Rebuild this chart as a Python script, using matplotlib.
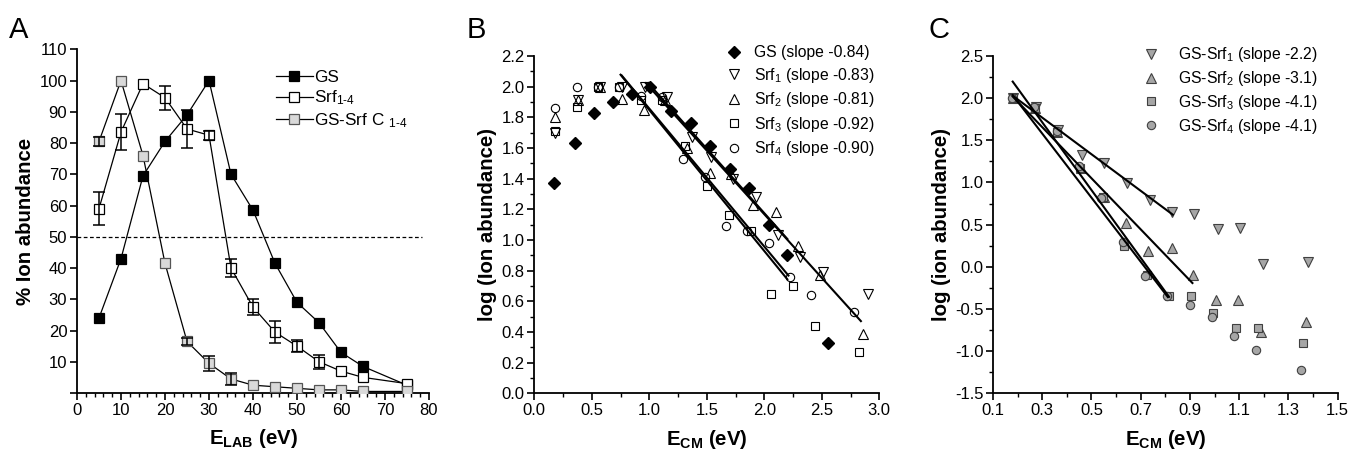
import numpy as np
import matplotlib
matplotlib.use("Agg")
import matplotlib.pyplot as plt
from matplotlib.ticker import MultipleLocator, FixedLocator, FormatStrFormatter

plt.rcParams['font.family'] = ['Liberation Sans', 'DejaVu Sans']
plt.rcParams['mathtext.fontset'] = 'custom'
plt.rcParams['mathtext.rm'] = 'Liberation Sans'
plt.rcParams['mathtext.it'] = 'Liberation Sans'
plt.rcParams['mathtext.bf'] = 'Liberation Sans:bold'
plt.rcParams['mathtext.default'] = 'regular'

# ---------------- Panel A data ----------------
elab = [5, 10, 15, 20, 25, 30, 35, 40, 45, 50, 55, 60, 65, 75]
gs_a = [24, 43, 69.5, 80.5, 89, 100, 70, 58.5, 41.5, 29, 22.5, 13, 8.5, 2.5]
srf_a = [59, 83.5, 99, 94.5, 84.5, 82.5, 40, 27.5, 19.5, 15, 10, 7, 5, 3]
srf_a_err = [5.3, 5.8, 0, 3.9, 6.0, 1.4, 2.8, 2.6, 3.6, 2.0, 2.2, 0, 0, 0]
gssrf_a = [80.5, 100, 76, 41.5, 16.5, 9.5, 4.5, 2.5, 2, 1.5, 1, 1, 0.5, 0.5]
gssrf_a_err = [1.3, 0, 0, 0, 1.2, 2.5, 2.0, 0, 0, 0, 0, 0, 0, 0]
a_labels = ['GS', 'Srf$_{1\u20104}$', 'GS-Srf C $_{1\u20104}$']

# ---------------- Panel B data ----------------
gs_b_x = [0.17, 0.35, 0.52, 0.68, 0.85, 1.01, 1.19, 1.36, 1.53, 1.70, 1.87, 2.04, 2.20, 2.55]
gs_b_y = [1.37, 1.63, 1.83, 1.90, 1.95, 2.00, 1.84, 1.76, 1.61, 1.46, 1.34, 1.10, 0.90, 0.33]
srf1_b_x = [0.18, 0.38, 0.57, 0.76, 0.96, 1.15, 1.37, 1.54, 1.73, 1.93, 2.12, 2.31, 2.51, 2.90]
srf1_b_y = [1.70, 1.91, 2.00, 2.00, 2.00, 1.93, 1.67, 1.54, 1.40, 1.28, 1.03, 0.89, 0.79, 0.65]
srf2_b_x = [0.18, 0.38, 0.57, 0.76, 0.95, 1.14, 1.33, 1.53, 1.71, 1.90, 2.10, 2.29, 2.48, 2.86]
srf2_b_y = [1.80, 1.91, 2.00, 1.92, 1.85, 1.91, 1.60, 1.44, 1.43, 1.23, 1.18, 0.96, 0.77, 0.39]
srf3_b_x = [0.18, 0.37, 0.55, 0.74, 0.93, 1.11, 1.31, 1.50, 1.69, 1.88, 2.06, 2.25, 2.44, 2.82]
srf3_b_y = [1.71, 1.87, 2.00, 2.00, 1.91, 1.91, 1.61, 1.35, 1.16, 1.06, 0.65, 0.70, 0.44, 0.27]
srf4_b_x = [0.18, 0.37, 0.55, 0.74, 0.93, 1.11, 1.29, 1.48, 1.67, 1.85, 2.04, 2.22, 2.41, 2.78]
srf4_b_y = [1.86, 2.00, 2.00, 2.00, 1.94, 1.93, 1.53, 1.41, 1.09, 1.06, 0.98, 0.76, 0.64, 0.53]
b_labels = ['GS (slope -0.84)', 'Srf$_1$ (slope -0.83)', 'Srf$_2$ (slope -0.81)',
            'Srf$_3$ (slope -0.92)', 'Srf$_4$ (slope -0.90)']
# regression lines: (x start, x end, slope, intercept)
b_fits = [(0.99, 2.20, -0.84, 2.855), (0.97, 2.84, -0.83, 2.828),
          (0.75, 2.20, -0.92, 2.768), (0.76, 2.21, -0.90, 2.757)]

# ---------------- Panel C data ----------------
c1_x = [0.18, 0.275, 0.365, 0.46, 0.552, 0.646, 0.738, 0.828, 0.918, 1.012, 1.103, 1.195, 1.378]
c1_y = [2.00, 1.89, 1.62, 1.33, 1.23, 0.99, 0.79, 0.65, 0.63, 0.45, 0.46, 0.03, 0.06]
c2_x = [0.18, 0.27, 0.36, 0.457, 0.55, 0.64, 0.73, 0.826, 0.914, 1.006, 1.097, 1.187, 1.371]
c2_y = [2.00, 1.88, 1.60, 1.17, 0.83, 0.52, 0.19, 0.22, -0.10, -0.39, -0.39, -0.77, -0.65]
c3_x = [0.18, 0.27, 0.36, 0.453, 0.547, 0.632, 0.724, 0.815, 0.904, 0.995, 1.087, 1.178, 1.361]
c3_y = [2.00, 1.88, 1.60, 1.17, 0.83, 0.25, -0.10, -0.35, -0.35, -0.55, -0.72, -0.73, -0.90]
c4_x = [0.177, 0.268, 0.359, 0.45, 0.539, 0.627, 0.719, 0.807, 0.899, 0.99, 1.079, 1.17, 1.351]
c4_y = [2.00, 1.89, 1.61, 1.20, 0.82, 0.29, -0.11, -0.35, -0.45, -0.59, -0.82, -0.99, -1.22]
c_labels = ['GS-Srf$_1$ (slope -2.2)', 'GS-Srf$_2$ (slope -3.1)',
            'GS-Srf$_3$ (slope -4.1)', 'GS-Srf$_4$ (slope -4.1)']
c_fits = [(0.18, 0.83, -2.17, 2.42), (0.18, 0.91, -3.03, 2.565),
          (0.18, 0.815, -4.02, 2.92), (0.18, 0.81, -3.80, 2.72)]

fig = plt.figure(figsize=(13.49, 4.55), dpi=100)
W, H = 1349, 455

def rect(l, r, t, b):
    return [l / W, 1 - b / H, (r - l) / W, (b - t) / H]

TS = 12     # tick labels
LS = 14.7   # axis labels
LG = 11.3   # legend B/C

def style(ax):
    for s in ['top', 'right']:
        ax.spines[s].set_visible(False)
    for s in ['left', 'bottom']:
        ax.spines[s].set_linewidth(1.3)
    ax.tick_params(which='major', direction='out', length=5, width=1.2, labelsize=TS, pad=2)
    ax.tick_params(which='minor', direction='out', length=3, width=1.0)

# ---------------- Panel A ----------------
axA = fig.add_axes(rect(77, 429, 49.3, 393))
style(axA)
axA.axhline(50, xmin=0, xmax=78.5 / 80, color='black', lw=0.9, ls=(0, (3, 2)))
msA = 6.5
ea = np.array(srf_a_err); m = ea > 0
axA.errorbar(np.array(elab)[m], np.array(srf_a)[m], yerr=ea[m], fmt='none',
             ecolor='black', elinewidth=1.1, capsize=4, capthick=1.1, zorder=4)
eg = np.array(gssrf_a_err); m2 = eg > 0
axA.errorbar(np.array(elab)[m2], np.array(gssrf_a)[m2], yerr=eg[m2], fmt='none',
             ecolor='black', elinewidth=1.1, capsize=4, capthick=1.1, zorder=4)
axA.plot(elab, gs_a, '-s', color='black', mfc='black', mec='black', ms=msA, lw=0.9,
         mew=0.9, label=a_labels[0], zorder=3)
axA.plot(elab, srf_a, '-s', color='black', mfc='white', mec='black', ms=msA, lw=0.9,
         mew=0.9, label=a_labels[1], zorder=3)
axA.plot(elab, gssrf_a, '-s', color='black', mfc='#d9d9d9', mec='#555555', ms=msA, lw=0.9,
         mew=0.9, label=a_labels[2], zorder=3)
axA.set_xlim(0, 80)
axA.set_ylim(0, 110)
axA.xaxis.set_major_locator(MultipleLocator(10))
axA.xaxis.set_minor_locator(MultipleLocator(2))
axA.set_yticks(np.arange(0, 111, 10))
axA.set_yticklabels(['' if v == 0 else str(int(v)) for v in np.arange(0, 111, 10)])
axA.set_xlabel(r'$\mathbf{E_{LAB}}$ (eV)', fontsize=LS, fontweight='bold', labelpad=7)
axA.set_ylabel('% Ion abundance', fontsize=LS, fontweight='bold', labelpad=3)
axA.legend(loc='upper left', bbox_to_anchor=(0.545, 0.96), frameon=False,
           fontsize=12.3, handlelength=2.2, handletextpad=0.05, labelspacing=0.22,
           borderaxespad=0)
fig.text(9 / W, 1 - 38 / H, 'A', fontsize=21)

# ---------------- Panel B ----------------
axB = fig.add_axes(rect(534.3, 879.3, 56, 393.3))
style(axB)
msB = 7
axB.plot(gs_b_x, gs_b_y, 'D', ls='none', mfc='black', mec='black', ms=msB - 0.5, label=b_labels[0])
axB.plot(srf1_b_x, srf1_b_y, 'v', ls='none', mfc='none', mec='black', ms=msB, mew=0.8, label=b_labels[1])
axB.plot(srf2_b_x, srf2_b_y, '^', ls='none', mfc='none', mec='black', ms=msB, mew=0.8, label=b_labels[2])
axB.plot(srf3_b_x, srf3_b_y, 's', ls='none', mfc='none', mec='black', ms=msB - 1, mew=0.8, label=b_labels[3])
axB.plot(srf4_b_x, srf4_b_y, 'o', ls='none', mfc='none', mec='black', ms=msB - 1, mew=0.8, label=b_labels[4])
for x0, x1, s, c in b_fits:
    xs = np.array([x0, x1])
    axB.plot(xs, s * xs + c, color='black', lw=1.5)
axB.set_xlim(0, 3.0)
axB.set_ylim(0, 2.2)
axB.xaxis.set_major_locator(MultipleLocator(0.5))
axB.xaxis.set_minor_locator(MultipleLocator(0.25))
axB.yaxis.set_major_locator(MultipleLocator(0.2))
axB.yaxis.set_minor_locator(MultipleLocator(0.1))
axB.xaxis.set_major_formatter(FormatStrFormatter('%.1f'))
axB.yaxis.set_major_formatter(FormatStrFormatter('%.1f'))
axB.set_xlabel(r'$\mathbf{E_{CM}}$ (eV)', fontsize=LS, fontweight='bold', labelpad=7)
axB.set_ylabel('log (Ion abundance)', fontsize=LS, fontweight='bold', labelpad=3)
axB.legend(loc='upper right', bbox_to_anchor=(1.005, 1.05), frameon=False, fontsize=LG,
           handlelength=1.0, handletextpad=0.8, labelspacing=0.35, borderaxespad=0)
fig.text(467 / W, 1 - 38 / H, 'B', fontsize=21)

# ---------------- Panel C ----------------
axC = fig.add_axes(rect(993, 1337.7, 56, 393.3))
style(axC)
msC = 7
gfill, gedge = '#a6a6a6', '#404040'
axC.plot(c1_x, c1_y, 'v', ls='none', mfc=gfill, mec=gedge, ms=msC, mew=0.8, label=c_labels[0])
axC.plot(c2_x, c2_y, '^', ls='none', mfc=gfill, mec=gedge, ms=msC, mew=0.8, label=c_labels[1])
axC.plot(c3_x, c3_y, 's', ls='none', mfc=gfill, mec=gedge, ms=msC - 1, mew=0.8, label=c_labels[2])
axC.plot(c4_x, c4_y, 'o', ls='none', mfc=gfill, mec=gedge, ms=msC - 1, mew=0.8, label=c_labels[3])
for x0, x1, s, c in c_fits:
    xs = np.array([x0, x1])
    axC.plot(xs, s * xs + c, color='black', lw=1.5)
axC.set_xlim(0.1, 1.5)
axC.set_ylim(-1.5, 2.5)
axC.xaxis.set_major_locator(FixedLocator([0.1, 0.3, 0.5, 0.7, 0.9, 1.1, 1.3, 1.5]))
axC.xaxis.set_minor_locator(MultipleLocator(0.1))
axC.yaxis.set_major_locator(MultipleLocator(0.5))
axC.yaxis.set_minor_locator(MultipleLocator(0.25))
axC.xaxis.set_major_formatter(FormatStrFormatter('%.1f'))
axC.yaxis.set_major_formatter(FormatStrFormatter('%.1f'))
axC.set_xlabel(r'$\mathbf{E_{CM}}$ (eV)', fontsize=LS, fontweight='bold', labelpad=7)
axC.set_ylabel('log (ion abundance)', fontsize=LS, fontweight='bold', labelpad=3)
axC.legend(loc='upper right', bbox_to_anchor=(0.96, 1.05), frameon=False, fontsize=LG,
           handlelength=1.0, handletextpad=1.2, labelspacing=0.3, borderaxespad=0)
fig.text(928 / W, 1 - 38 / H, 'C', fontsize=21)

fig.savefig('out.png', dpi=100)
